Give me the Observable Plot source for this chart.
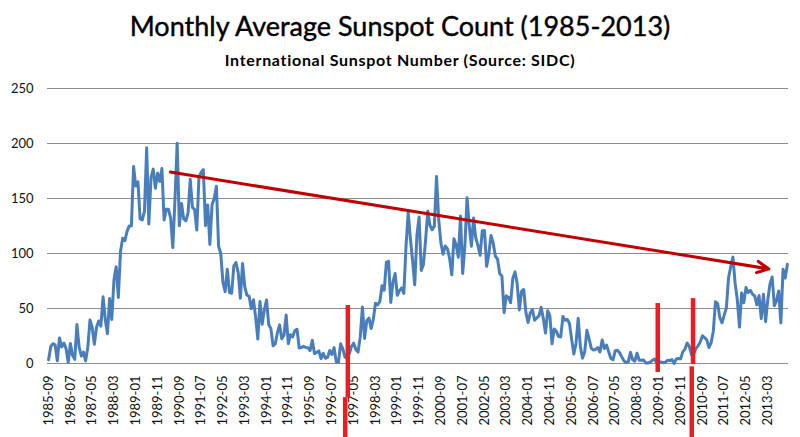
<!DOCTYPE html>
<html><head><meta charset="utf-8">
<script src="https://cdn.jsdelivr.net/npm/d3@7"></script>
<script src="https://cdn.jsdelivr.net/npm/@observablehq/plot@0.6"></script>
<style>
html,body{margin:0;padding:0;background:#fff;width:800px;height:437px;overflow:hidden;font-family:Lato,"Open Sans",sans-serif}
#head{height:78px;position:relative}
#title{position:absolute;left:0;width:800px;top:12px;text-align:center;font-size:27px;line-height:1;color:#000;white-space:nowrap;-webkit-text-stroke:0.4px #000}
#sub{position:absolute;left:0;width:800px;top:52px;text-align:center;font-size:16px;letter-spacing:0.7px;font-weight:bold;line-height:1;color:#000;white-space:nowrap}
</style></head>
<body>
<div id="head"><div id="title">Monthly Average Sunspot Count (1985-2013)</div><div id="sub">International Sunspot Number (Source: SIDC)</div></div>
<div id="chart"></div>
<script>
// Monthly mean international sunspot number, 1985-09 .. 2013-12
const sunspots = [
  3.5, 15.5, 18.0, 17.0,
  2.5, 23.2, 15.1, 18.5, 13.7, 1.1, 18.1, 7.4, 3.8, 35.4, 15.2, 6.8,
  10.4, 2.4, 14.7, 39.6, 33.0, 17.4, 33.0, 38.7, 33.9, 60.6, 39.9, 27.1,
  59.0, 40.0, 76.2, 88.0, 60.1, 101.8, 113.8, 111.6, 120.1, 125.1, 125.1, 179.2,
  161.3, 165.1, 131.4, 130.5, 138.5, 196.2, 126.9, 168.9, 176.7, 159.4, 173.0, 165.5,
  177.3, 130.5, 140.3, 140.3, 132.2, 105.4, 149.4, 200.3, 125.2, 145.5, 131.4, 129.7,
  136.9, 167.5, 141.9, 140.0, 121.3, 169.7, 173.7, 176.3, 125.3, 144.1, 108.2, 144.4,
  150.0, 161.1, 106.7, 99.8, 73.8, 65.2, 85.7, 64.5, 63.9, 88.7, 91.8, 82.6,
  59.3, 91.0, 69.8, 62.2, 61.3, 49.8, 57.9, 42.2, 22.2, 56.4, 35.6, 48.9,
  57.8, 35.5, 31.7, 16.1, 17.8, 28.0, 35.1, 22.5, 25.7, 44.0, 18.0, 26.2,
  24.2, 29.9, 31.1, 14.0, 14.5, 15.6, 14.5, 14.3, 11.8, 21.1, 9.0, 10.0,
  11.5, 4.4, 9.2, 4.8, 5.5, 11.8, 8.2, 14.4, 1.6, 0.9, 17.9, 13.3,
  5.7, 7.6, 8.7, 15.5, 18.5, 12.7, 10.4, 24.4, 51.3, 22.8, 39.0, 41.2,
  31.9, 40.3, 54.8, 53.4, 56.3, 70.7, 66.6, 92.2, 92.9, 55.5, 74.0, 81.9,
  62.0, 66.3, 68.8, 63.7, 106.4, 137.7, 113.5, 93.7, 71.5, 116.7, 133.2, 84.6,
  90.1, 112.9, 138.5, 125.5, 121.6, 124.9, 170.1, 130.5, 109.7, 99.4, 106.8, 104.4,
  95.6, 80.6, 113.5, 107.7, 96.6, 134.0, 81.8, 106.4, 150.7, 125.5, 106.5, 132.2,
  114.1, 107.4, 98.4, 120.7, 120.8, 88.3, 99.6, 116.4, 109.6, 97.5, 95.0, 81.6,
  79.5, 46.2, 61.5, 60.0, 55.2, 77.4, 83.3, 72.7, 48.7, 65.5, 67.3, 46.5,
  37.3, 45.8, 49.1, 39.3, 41.5, 43.2, 51.1, 40.9, 27.7, 48.0, 43.5, 17.9,
  31.3, 29.2, 24.5, 24.2, 42.7, 39.3, 40.1, 36.4, 21.9, 8.7, 18.0, 41.1,
  15.3, 4.9, 10.6, 30.2, 22.3, 13.9, 12.2, 12.9, 14.4, 10.5, 21.4, 13.6,
  16.8, 10.7, 4.5, 3.4, 11.7, 12.1, 9.7, 6.0, 2.4, 0.9, 1.7, 10.1,
  3.4, 2.1, 9.3, 2.9, 2.9, 3.1, 0.5, 0.5, 1.1, 2.9, 4.1, 0.8,
  1.5, 1.4, 0.7, 1.2, 2.9, 2.6, 3.5, 0.0, 4.2, 4.6, 4.2, 10.6,
  13.1, 18.6, 15.4, 7.9, 8.8, 13.5, 16.1, 19.6, 25.2, 23.5, 21.6, 14.5,
  19.0, 29.4, 56.2, 54.4, 41.6, 37.0, 43.9, 50.6, 78.0, 88.0, 96.7, 73.0,
  58.3, 33.1, 64.2, 55.2, 69.0, 64.5, 66.5, 63.0, 61.4, 53.3, 61.8, 40.8,
  62.9, 38.0, 57.9, 72.4, 78.7, 52.5, 57.0, 66.0, 36.9, 85.6, 77.6, 90.3
];

// Category labels shown every 10 months
const tickLabels = ["1985-09","1986-07","1987-05","1988-03","1989-01","1989-11","1990-09","1991-07",
  "1992-05","1993-03","1994-01","1994-11","1995-09","1996-07","1997-05","1998-03","1999-01","1999-11",
  "2000-09","2001-07","2002-05","2003-03","2004-01","2004-11","2005-09","2006-07","2007-05","2008-03",
  "2009-01","2009-11","2010-09","2011-07","2012-05","2013-03"];
const tickStep = 10;
const yTicks = [0, 50, 100, 150, 200, 250];

// Hand-drawn annotations (month index, value)
const trendArrow = [{i1: 55.9, v1: 174, i2: 330.5, v2: 86}];
const markerBars = [
  {i: 137.3, top: 52.7, bottom: -31},
  {i: 136.1, top: -31, bottom: -68},
  {i: 279.5, top: 54.5, bottom: -8.2},
  {i: 295.7, top: 59, bottom: -1},
  {i: 295.1, top: -3, bottom: -68}
];

const data = sunspots.map((v, i) => ({i, v}));
const tickIdx = tickLabels.map((_, k) => k * tickStep);

const chart = Plot.plot({
  width: 800, height: 359,
  marginLeft: 47, marginRight: 12, marginTop: 10, marginBottom: 74,
  x: {domain: [-0.5, sunspots.length - 0.5]},
  y: {domain: [0, 250]},
  style: {fontFamily: "Lato, 'Open Sans', sans-serif", fontSize: "13px", color: "#111", background: "#fff", overflow: "visible"},
  marks: [
    Plot.ruleY(yTicks, {stroke: "#8c8c8c", strokeWidth: 1}),
    Plot.axisY({ticks: yTicks, tickSize: 0, tickPadding: 14, label: null, fontSize: 13}),
    Plot.axisX({ticks: tickIdx, tickFormat: d => tickLabels[Math.round(d / tickStep)], tickRotate: -90, tickSize: 0, tickPadding: 12, label: null, fontSize: 13}),
    Plot.line(data, {x: "i", y: "v", stroke: "#4A7EBB", strokeWidth: 3, strokeLinejoin: "round", strokeLinecap: "round"}),
    Plot.arrow(trendArrow, {x1: "i1", y1: "v1", x2: "i2", y2: "v2", stroke: "#C00000", strokeWidth: 3, headLength: 6.5, headAngle: 52}),
    Plot.ruleX(markerBars, {x: "i", y1: "top", y2: "bottom", stroke: "#ED1C24", strokeWidth: 4.5})
  ]
});
document.getElementById("chart").appendChild(chart);
</script>
</body></html>
